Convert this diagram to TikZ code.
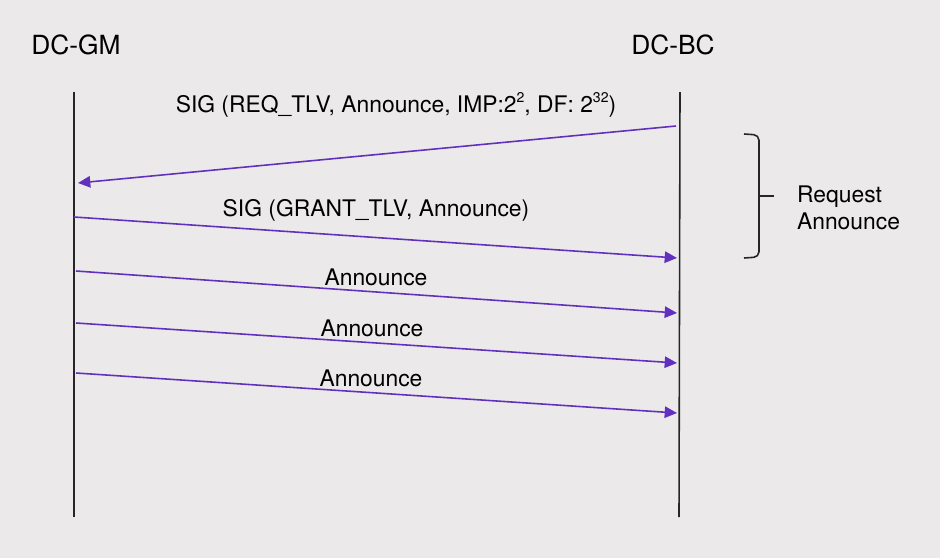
\documentclass[tikz,border=0pt]{standalone}
\usepackage{fontspec}
\setmainfont{TeX Gyre Heros}
\usepackage{tikz}
\usetikzlibrary{calc,arrows.meta}
\definecolor{bgcol}{HTML}{EBE9EA}
\definecolor{msgcol}{HTML}{6230BE}
\newcommand{\smallsup}[1]{\raisebox{0.42em}{\fontsize{8}{8}\selectfont #1}}

\begin{document}
\begin{tikzpicture}[x=0.02cm,y=-0.02cm,
    lifeline/.style={line width=0.9pt,black!85},
    msg/.style={line width=0.9pt,msgcol,-{Triangle[length=7pt,width=6.5pt]}},
    lbl/.style={font=\fontsize{13}{15}\selectfont,inner sep=1pt},
    party/.style={font=\fontsize{15}{17}\selectfont}]
  \fill[bgcol] (0,0) rectangle (940,558);
  \useasboundingbox (0,0) rectangle (940,558);
  \node[party] (gm) at (76,45) {DC-GM};
  \node[party] (bc) at (673,45) {DC-BC};
  \coordinate (gmtop) at (74,92);
  \coordinate (gmbot) at (74,517);
  \coordinate (bctop) at (680,92);
  \coordinate (bcbot) at (679,517);
  \draw[lifeline] (gmtop) -- (gmbot);
  \draw[lifeline] (bctop) -- (bcbot);
  % request from DC-BC
  \coordinate (r1) at (676,126);
  \coordinate (r2) at (78,183);
  \draw[msg] (r1) -- (r2);
  \node[lbl] (req) at (396,105) {SIG (REQ\_TLV, Announce, IMP:2\smallsup{2}, DF: 2\smallsup{32})};
  % grant from DC-GM
  \coordinate (g1) at (74,217);
  \coordinate (g2) at (677,258);
  \draw[msg] (g1) -- (g2);
  \node[lbl] (grant) at (376,210) {SIG (GRANT\_TLV, Announce)};
  % announces
  \foreach \i/\ya/\yb/\xl/\ly in {1/271/313/376/277,2/323/363/372/328,3/373/413/371/378}{
    \coordinate (a\i s) at (76,\ya);
    \coordinate (a\i e) at (677,\yb);
    \draw[msg] (a\i s) -- (a\i e);
    \node[lbl] (ann\i) at (\xl,\ly) {Announce};
  }
  % bracket
  \draw[line width=0.9pt,black!85,rounded corners=3pt]
    (744,134) -- (759,135) -- (759,196) -- (759,257) -- (744,258);
  \draw[line width=0.9pt,black!85] (759,196) -- (774,196);
  \node[lbl,anchor=west,align=left] (note) at (795,208) {Request\\Announce};
\end{tikzpicture}
\end{document}
